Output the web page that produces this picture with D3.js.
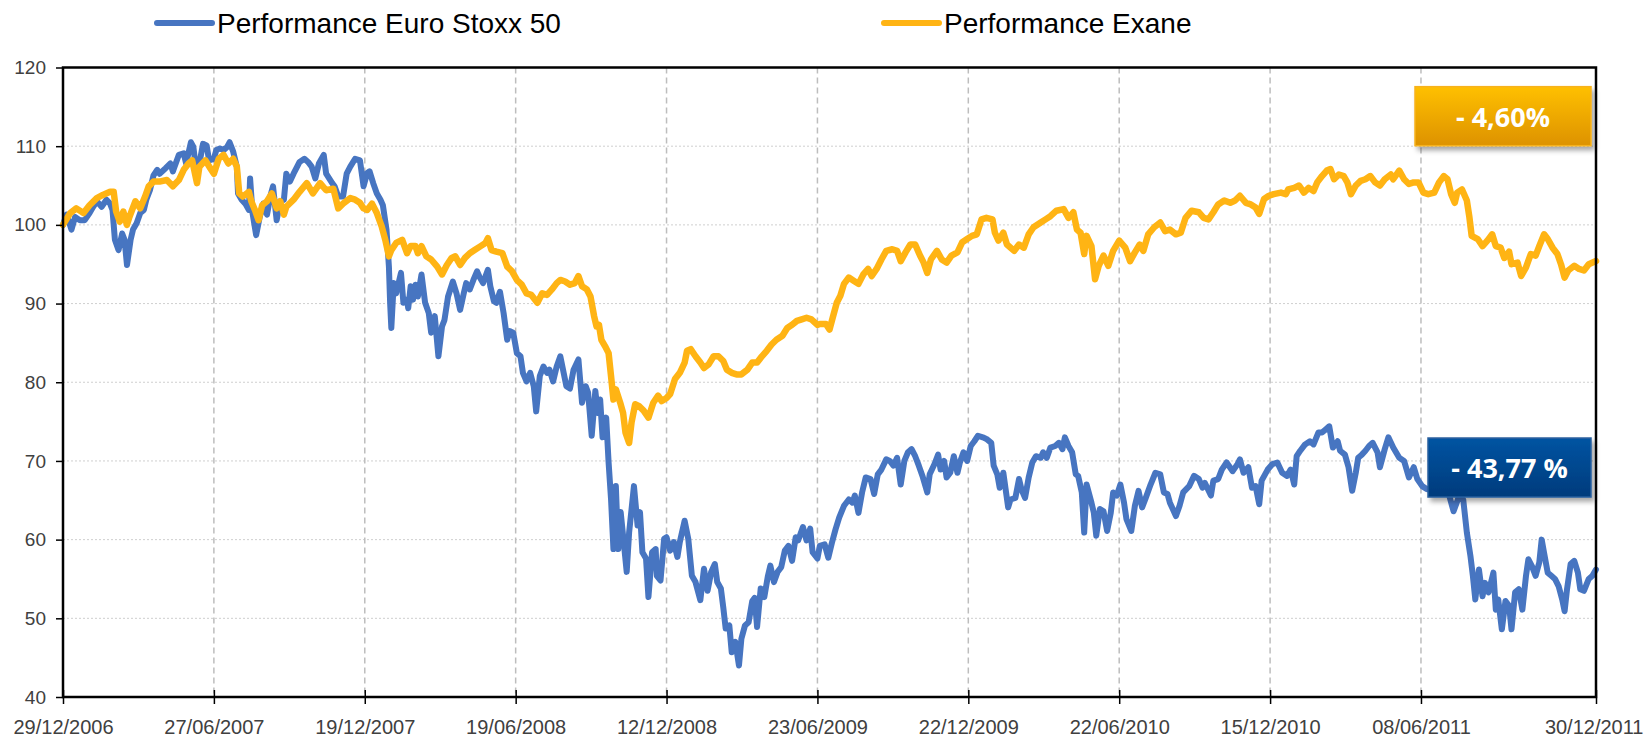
<!DOCTYPE html>
<html>
<head>
<meta charset="utf-8">
<script src="https://cdn.jsdelivr.net/npm/d3@7"></script>
<style>
  html, body { margin: 0; padding: 0; background: #ffffff; }
  svg { display: block; }
</style>
</head>
<body>
<div id="chart"></div>
<script>
// Trading session number counted from 29/12/2006, and index level (base 100)
const stoxxSession = [0, 3, 7, 10, 14, 18, 22, 25, 28, 32, 36, 39, 41, 43, 46, 49, 51, 53, 56, 58, 61, 64, 67, 69, 72, 75, 78, 80, 85, 89, 91, 96, 100, 102, 106, 108, 111, 113, 116, 119, 121, 125, 127, 130, 133, 136, 138, 141, 144, 145, 148, 151, 154, 155, 157, 160, 163, 166, 169, 172, 174, 177, 180, 183, 185, 188, 191, 194, 196, 200, 203, 206, 209, 212, 216, 218, 223, 225, 228, 232, 235, 238, 242,
  246, 249, 252, 254, 257, 260, 263, 265, 268, 270, 271, 272, 274, 276, 280, 282, 285, 286, 288, 290, 292, 294, 297, 300, 303, 305, 308, 311, 314, 316, 319, 323, 326, 329, 332, 334, 337, 340, 343, 345, 348, 352, 354, 357, 359, 362, 365, 368, 370, 373, 376, 379, 381, 384, 387, 390, 392, 395, 398, 401, 403, 406, 409,
  412, 417, 420, 423, 427, 430, 433, 435, 438, 441, 443, 445, 447, 450, 452, 454, 456, 458, 460, 462, 464, 467, 469, 473, 476, 478, 480, 483, 485, 488, 491, 492, 495, 498, 500, 503, 506, 509, 511, 515, 518, 521, 524, 528, 531, 534, 537, 540, 542, 545, 547, 549, 552, 554, 557, 560, 562, 565, 568, 571, 573, 575, 578, 581, 584, 586, 589, 592, 595, 598, 601, 604, 607, 609, 613, 616, 619, 621, 625, 627,
  631, 634, 637, 640, 643, 647, 651, 654, 656, 659, 662, 665, 669, 672, 675, 678, 682, 685, 688, 691, 694, 697, 700, 703, 706, 709, 712, 716, 718, 722, 725, 727, 730, 732, 735, 738, 741, 743, 746, 749, 752, 755, 758, 762, 765, 769, 771, 774, 776, 779, 783, 785, 789, 792, 794, 797, 800, 803, 806, 810, 812, 815, 818, 822, 825, 828, 830, 833, 836, 839, 841, 844, 846, 848, 852, 854, 856, 859, 862, 865, 868, 870, 873, 876, 879, 881, 885, 888, 891, 894, 897, 901, 905, 909, 912, 915, 917, 922, 925,
  928, 933, 937, 941, 944, 946, 951, 953, 957, 960, 964, 969, 973, 975, 978, 982, 985, 988, 991, 993, 998, 1002, 1006, 1010, 1014, 1017, 1020, 1022, 1025, 1029, 1033, 1036, 1040, 1043, 1046, 1049, 1052, 1056, 1058, 1062, 1065, 1068, 1071, 1073, 1076, 1079, 1082, 1085, 1089, 1091, 1095, 1098, 1102, 1107, 1111, 1115, 1119, 1122, 1126, 1130, 1136, 1141, 1147, 1152, 1156, 1160, 1163, 1166, 1168, 1170, 1173, 1176, 1178, 1181, 1185, 1187, 1189, 1192, 1195, 1198, 1200, 1203, 1206, 1209, 1212, 1214, 1217, 1220, 1223, 1225, 1227, 1230, 1233, 1236, 1239, 1242, 1244, 1246, 1249, 1252, 1255, 1257, 1260, 1264, 1267, 1270];
const stoxxValue = [100, 101.3, 99.4, 101, 100.6, 100.6, 101.5, 102.3, 103, 102.3, 103.2, 102.7, 101.9, 98.1, 96.8, 98.9, 98.1, 94.9, 98.1, 99.4, 100.2, 101.5, 101.9, 103.2, 104.4, 106.3, 107, 106.5, 107.2, 107.8, 106.8, 108.9, 109.1, 107.8, 110.5, 109.9, 106.1, 107.8, 110.3, 110.1, 108.2, 108.4, 109.5, 109.7, 109.5, 109.9, 110.5, 109.3, 107.4, 104, 103.2, 102.7, 101.9, 105.9, 101.5, 98.7, 101, 102.7, 101.3, 103.8, 104.9, 100.6, 103, 103.2, 106.5, 105.5, 106.5, 107.4, 108, 108.4, 108, 107.4, 105.9, 107.8, 108.9, 106.5, 105.3, 104.9, 103.6, 103.6, 106.5, 107.4, 108.4,
  108.2, 104.9, 106.6, 106.8, 105.3, 104, 103.2, 102.5, 99.4, 94.7, 90.1, 86.9, 92.6, 91.3, 93.9, 90.1, 90.5, 89.4, 92.2, 90.5, 92.4, 90.9, 93.7, 90.1, 88.8, 86.3, 88.4, 83.3, 87.1, 87.9, 90.9, 92.8, 91.3, 89.2, 91.3, 92.6, 91.8, 93, 94.1, 93.4, 92.6, 94.3, 92.2, 90.3, 90.1, 91.5, 88.8, 85.4, 86.5, 86.3, 83.7, 83.3, 81.2, 80.1, 81.2, 79.5, 76.3, 80.8, 82, 81.2, 81.6, 80.1, 82,
  83.3, 79.5, 79.2, 81.6, 82.9, 77.4, 79.5, 78.7, 73.2, 78.9, 76.1, 77.8, 73, 75.5, 69.8, 65.2, 58.8, 66.8, 58.8, 63.5, 60.5, 55.9, 60.9, 66.8, 61.8, 63.5, 58.4, 57.6, 52.7, 58.4, 58.8, 55.4, 54.8, 60.1, 60.3, 58.6, 59.7, 57.8, 59.7, 62.4, 60.1, 55.4, 54.6, 52.3, 56.3, 53.5, 55.9, 56.9, 54.6, 53.8, 51.4, 48.7, 49.1, 45.7, 47, 44, 47.4, 49.1, 49.5, 52.2, 52.6, 48.9, 53.8, 52.7, 55.4, 56.7, 54.6, 55.9, 56.5, 58.6, 59.2, 57.3, 60.3, 59.9, 61.6, 59.9, 61.4, 58.4, 57.6, 59.2,
  59.4, 57.7, 59.6, 61.3, 62.8, 64.3, 65.1, 64.7, 65.6, 63.4, 66, 67.9, 67.7, 65.8, 68.3, 68.9, 70.2, 70, 69.4, 70.4, 67, 70, 71.1, 71.5, 70.6, 69.4, 68.1, 66, 68.3, 69.6, 70.8, 68.9, 70, 67.9, 68.5, 70.6, 68.5, 69.8, 71.1, 70, 71.9, 72.5, 73.2, 73, 72.8, 72.3, 69.4, 68.3, 66.6, 68.5, 64.1, 65.1, 65.3, 67.7, 66.4, 65.3, 67.9, 69.8, 70.6, 70.4, 71.1, 70.4, 71.7, 71.9, 72.3, 71.5, 73, 71.9, 71.1, 68.3, 68.1, 66, 60.9, 67, 64.7, 63.4, 60.5, 63.9, 63.6, 61.1, 63.4, 66, 65.6, 67, 64.7, 62.6, 61.1, 64.3, 66.2, 64.1, 65.3, 67, 68.5, 68.3, 66, 65.8, 64.7, 63, 64.3,
  66, 66.8, 68.1, 67.7, 66.6, 67.2, 65.6, 67.5, 67.7, 68.9, 69.8, 68.7, 69.6, 70.2, 68.5, 69.2, 66.6, 66.8, 64.5, 67.5, 68.9, 69.6, 69.8, 68.5, 68.1, 68.9, 67, 70.6, 71.3, 72.1, 72.5, 72.1, 73.6, 73.6, 74, 74.4, 71.7, 72.5, 71.3, 70.8, 69.2, 66.2, 68.5, 70.4, 70.8, 71.3, 71.9, 72.3, 71.1, 69.2, 71.5, 73, 71.7, 70.4, 70, 67.9, 69.2, 67.7, 66.8, 66.4, 66.4, 66.2, 66.4, 63.6, 65.3, 65.1, 60.9, 57.9, 55.4, 52.4, 56.2, 52.8, 54.5, 53.3, 55.8, 51.1, 52.4, 48.6, 52.2, 51.6, 48.6, 53.3, 53.7, 51.1, 55.4, 57.5, 56.6, 55.4, 57.1, 60, 58.3, 55.8, 55.4, 55, 54.1, 52.4, 50.9, 53.7, 56.9, 57.3, 55.8, 53.7, 53.5, 55, 55.4, 56.2];

const exaneSession = [0, 6, 11, 17, 22, 28, 33, 39, 42, 44, 47, 50, 53, 55, 60, 64, 68, 71, 75, 80, 86, 91, 96, 100, 104, 107, 111, 113, 118, 122, 125, 129, 133, 137, 141, 144, 146, 149, 154, 156, 159, 162, 165, 169, 173, 177, 180, 183, 185, 191, 196, 202, 207, 213, 218, 224, 228, 232, 238, 242,
  246, 249, 252, 256, 260, 264, 267, 270, 272, 276, 281, 285, 288, 292, 294, 297, 301, 305, 310, 314, 318, 322, 325, 329, 333, 337, 341, 346, 350, 352, 355, 359, 364, 368, 372, 376, 380, 384, 388, 393, 397, 401, 405, 409,
  412, 416, 420, 424, 427, 430, 434, 437, 440, 442, 444, 446, 449, 452, 454, 456, 458, 462, 464, 466, 469, 471, 474, 477, 481, 485, 489, 493, 496, 500, 503, 507, 511, 515, 517, 520, 524, 528, 531, 535, 539, 543, 547, 550, 554, 558, 562, 567, 571, 575, 579, 583, 587, 591, 596, 600, 604, 608, 612, 616, 620, 625,
  627, 632, 635, 638, 641, 644, 647, 651, 655, 659, 663, 667, 670, 674, 678, 682, 687, 691, 694, 698, 702, 706, 710, 713, 716, 719, 724, 728, 732, 736, 741, 745, 749, 753, 757, 761, 765, 770, 772, 775, 779, 782, 788, 792, 796, 800, 804, 810, 814, 818, 823, 829, 833, 837, 840, 843, 846, 848, 852, 855, 858, 862, 866, 870, 875, 880, 884, 888, 892, 895, 899, 904, 909, 913, 917, 922,
  926, 930, 935, 941, 945, 949, 953, 957, 962, 967, 971, 975, 980, 984, 988, 991, 995, 999, 1003, 1009, 1013, 1015, 1020, 1024, 1028, 1032, 1036, 1039, 1043, 1047, 1050, 1053, 1057, 1061, 1064, 1067, 1071, 1075, 1079, 1083, 1087, 1091, 1095, 1100, 1102, 1107, 1111, 1115, 1119, 1123, 1127, 1131, 1136, 1140, 1144, 1147, 1150, 1153, 1155, 1159, 1163, 1165, 1167, 1172, 1176, 1180, 1184, 1187, 1191, 1194, 1198, 1200, 1205, 1208, 1212, 1216, 1220, 1223, 1227, 1230, 1234, 1238, 1241, 1244, 1247, 1252, 1256, 1260, 1264, 1270];
const exaneValue = [100, 101.5, 102.1, 101.5, 102.5, 103.4, 103.8, 104.2, 104.2, 101.7, 100.4, 101.7, 100, 101, 103, 102.1, 103.6, 104.9, 105.5, 105.5, 105.7, 104.9, 105.7, 107, 107.8, 108.2, 105.3, 107.4, 108.2, 107.2, 106.5, 108.4, 108.9, 107.8, 108.4, 107.4, 104, 103.6, 104.2, 103, 101.9, 100.6, 102.5, 103, 104, 102.1, 103, 101.3, 102.3, 103.2, 104.2, 105.3, 104, 105.3, 104.4, 104.6, 102.1, 102.7, 103.4, 103.2,
  102.8, 102.1, 101.9, 102.7, 101.5, 99.8, 98.1, 96, 96.8, 97.7, 98.1, 96.4, 97.3, 97.3, 96.4, 97.3, 96, 95.6, 94.7, 93.7, 94.9, 95.8, 96, 94.9, 95.8, 96.4, 96.8, 97.3, 97.7, 98.3, 96.8, 96.6, 96.4, 94.7, 94.1, 93, 92.4, 91.3, 91.1, 90.1, 91.3, 91.1, 91.8, 92.6,
  93, 92.8, 92.4, 92.6, 93.5, 92.2, 91.8, 90.9, 88.4, 87.1, 87.3, 85.4, 84.6, 83.7, 80.8, 77.8, 79.1, 77.2, 76.1, 73.6, 72.3, 74.9, 77.2, 77, 76.4, 75.5, 77.4, 78.3, 77.6, 78, 78.5, 80.4, 81.2, 82.5, 84, 84.2, 83.3, 82.5, 81.8, 82.3, 83.3, 83.3, 82.7, 81.6, 81.2, 81, 81, 81.6, 82.5, 82.5, 83.3, 84, 84.8, 85.4, 85.9, 86.9, 87.3, 87.8, 88, 88.2, 88, 87.3,
  87.4, 87.4, 86.7, 88.4, 90.1, 91, 92.5, 93.3, 92.9, 92.5, 93.7, 94.4, 93.5, 94.4, 95.6, 96.7, 96.9, 96.7, 95.4, 96.5, 97.5, 97.5, 96.1, 95.2, 93.9, 95.6, 96.7, 95.6, 95.2, 96.1, 96.5, 97.8, 98.2, 98.6, 98.8, 100.7, 100.9, 100.7, 99, 98, 99, 97.5, 96.7, 97.5, 97.1, 98.8, 99.7, 100.3, 100.7, 101.1, 101.8, 102, 100.9, 101.6, 99.4, 99, 96.3, 98.6, 97.3, 93.1, 94.8, 96.1, 94.8, 96.7, 98, 97.1, 95.4, 96.5, 97.5, 96.7, 98.8, 99.7, 100.3, 99.2, 99.4, 98.8,
  99, 100.9, 101.8, 101.6, 100.9, 100.7, 101.6, 102.6, 103.1, 102.8, 103.1, 103.7, 102.8, 102.6, 102.2, 101.4, 103.3, 103.7, 103.9, 104.1, 103.9, 104.5, 104.7, 105, 104.1, 104.7, 104.3, 105.4, 106.2, 106.9, 107.1, 105.8, 106.4, 106.2, 105.4, 103.9, 105, 105.6, 105.8, 106.2, 105.4, 105, 105.8, 106.4, 105.8, 106.9, 105.8, 105.2, 105.4, 105.4, 104.1, 103.9, 104.1, 105.4, 106.2, 105.8, 103.9, 102.8, 104.1, 104.5, 103.1, 101.1, 98.6, 98.2, 97.3, 98, 98.8, 97.3, 97.1, 95.8, 96.6, 95, 95.2, 93.5, 94.6, 96.3, 96.1, 97.3, 98.8, 98.2, 97.1, 96.3, 95, 93.3, 94.2, 94.8, 94.4, 94.2, 95, 95.4];

// Category axis: one label every 125 sessions, plus the last session
const tickSessions = [0, 125, 250, 375, 500, 625, 750, 875, 1000, 1125, 1270];
const tickLabels = ['29/12/2006', '27/06/2007', '19/12/2007', '19/06/2008', '12/12/2008', '23/06/2009',
  '22/12/2009', '22/06/2010', '15/12/2010', '08/06/2011', '30/12/2011'];
const yTicks = [40, 50, 60, 70, 80, 90, 100, 110, 120];

const seriesNames = ['Performance Euro Stoxx 50', 'Performance Exane'];
const perfLabels = ['- 43,77 %', '- 4,60%'];

const colors = {
  stoxx: '#4775c1',
  exane: '#ffb414',
  axis: '#000000',
  text: '#404040'
};

const width = 1644;
const height = 738;
const plot = { left: 63, right: 1596, top: 67.5, bottom: 697 };

const svg = d3.select('#chart').append('svg')
  .attr('width', width)
  .attr('height', height);

const defs = svg.append('defs');

const shadow = defs.append('filter')
  .attr('id', 'shadow')
  .attr('x', '-10%').attr('y', '-20%')
  .attr('width', '130%').attr('height', '160%');
shadow.append('feDropShadow')
  .attr('dx', 3).attr('dy', 4)
  .attr('stdDeviation', 2.5)
  .attr('flood-color', '#000')
  .attr('flood-opacity', 0.35);

function addGradient(id, top, bottom) {
  const gr = defs.append('linearGradient')
    .attr('id', id)
    .attr('x1', 0).attr('y1', 0).attr('x2', 0).attr('y2', 1);
  gr.append('stop').attr('offset', '0%').attr('stop-color', top);
  gr.append('stop').attr('offset', '100%').attr('stop-color', bottom);
}
addGradient('gradOrange', '#ffc000', '#dd9200');
addGradient('gradBlue', '#0254a2', '#003b7c');

const x = d3.scaleLinear()
  .domain([0, d3.max(tickSessions)])
  .range([plot.left, plot.right]);

const y = d3.scaleLinear()
  .domain([40, 120])
  .range([plot.bottom, plot.top]);

// Gridlines
svg.append('g')
  .selectAll('line')
  .data(yTicks.filter(v => v > 40 && v < 120))
  .join('line')
  .attr('x1', plot.left).attr('x2', plot.right)
  .attr('y1', d => y(d)).attr('y2', d => y(d))
  .attr('stroke', '#cfcfcf')
  .attr('stroke-width', 1)
  .attr('stroke-dasharray', '2,2');

svg.append('g')
  .selectAll('line')
  .data(tickSessions.slice(1, -1))
  .join('line')
  .attr('x1', d => x(d)).attr('x2', d => x(d))
  .attr('y1', plot.top).attr('y2', plot.bottom)
  .attr('stroke', '#bdbdbd')
  .attr('stroke-width', 1.5)
  .attr('stroke-dasharray', '6,4');

// Series
const line = d3.line()
  .x(d => x(d[0]))
  .y(d => y(d[1]));

svg.append('path')
  .datum(d3.zip(stoxxSession, stoxxValue))
  .attr('fill', 'none')
  .attr('stroke', colors.stoxx)
  .attr('stroke-width', 6)
  .attr('stroke-linejoin', 'round')
  .attr('stroke-linecap', 'round')
  .attr('d', line);

svg.append('path')
  .datum(d3.zip(exaneSession, exaneValue))
  .attr('fill', 'none')
  .attr('stroke', colors.exane)
  .attr('stroke-width', 6.5)
  .attr('stroke-linejoin', 'round')
  .attr('stroke-linecap', 'round')
  .attr('d', line);

// Frame
svg.append('rect')
  .attr('x', plot.left).attr('y', plot.top)
  .attr('width', plot.right - plot.left)
  .attr('height', plot.bottom - plot.top)
  .attr('fill', 'none')
  .attr('stroke', colors.axis)
  .attr('stroke-width', 2.5);

// Y axis
const yAxis = svg.append('g')
  .attr('transform', `translate(${plot.left},0)`)
  .call(d3.axisLeft(y).tickValues(yTicks).tickSize(7).tickPadding(10).tickFormat(d3.format('d')));
yAxis.select('.domain').remove();
yAxis.selectAll('line').attr('stroke', colors.axis).attr('stroke-width', 1.5);
yAxis.selectAll('text')
  .attr('font-family', 'Liberation Sans, Arial, sans-serif')
  .attr('font-size', 19)
  .attr('fill', colors.text);

// X axis: ticks cross the axis line
const xAxis = svg.append('g')
  .attr('transform', `translate(0,${plot.bottom})`)
  .call(d3.axisBottom(x).tickValues(tickSessions).tickSize(7).tickPadding(16)
    .tickFormat((d, i) => tickLabels[i]));
xAxis.select('.domain').remove();
xAxis.selectAll('line')
  .attr('y1', -7)
  .attr('stroke', colors.axis)
  .attr('stroke-width', 1.5);
xAxis.selectAll('text')
  .attr('font-family', 'Liberation Sans, Arial, sans-serif')
  .attr('font-size', 20)
  .attr('fill', colors.text);
// last label sits flush with the right edge of the picture
xAxis.selectAll('.tick').filter((d, i) => i === tickSessions.length - 1)
  .select('text')
  .attr('text-anchor', 'end')
  .attr('x', width - x(d3.max(tickSessions)) - 1);

// Legend
const legend = [
  { name: seriesNames[0], color: colors.stoxx, x0: 157 },
  { name: seriesNames[1], color: colors.exane, x0: 884 }
];
legend.forEach(item => {
  svg.append('line')
    .attr('x1', item.x0).attr('x2', item.x0 + 55)
    .attr('y1', 23).attr('y2', 23)
    .attr('stroke', item.color)
    .attr('stroke-width', 6)
    .attr('stroke-linecap', 'round');
  svg.append('text')
    .attr('x', item.x0 + 60)
    .attr('y', 33)
    .attr('font-family', 'Liberation Sans, Arial, sans-serif')
    .attr('font-size', 28)
    .attr('fill', '#000')
    .text(item.name);
});

// Performance boxes
const boxes = [
  { label: perfLabels[1], fill: 'url(#gradOrange)', stroke: '#f7b21a', x0: 1415, level: 113.75, w: 176 },
  { label: perfLabels[0], fill: 'url(#gradBlue)', stroke: '#2a5f9e', x0: 1428, level: 69.1, w: 163 }
];
boxes.forEach(b => {
  const cy = y(b.level);
  svg.append('rect')
    .attr('x', b.x0).attr('y', cy - 30)
    .attr('width', b.w).attr('height', 59)
    .attr('fill', b.fill)
    .attr('stroke', b.stroke)
    .attr('stroke-width', 1.5)
    .attr('filter', 'url(#shadow)');
  svg.append('text')
    .attr('x', b.x0 + b.w / 2)
    .attr('y', cy + 10)
    .attr('text-anchor', 'middle')
    .attr('font-family', 'Open Sans, Lato, sans-serif')
    .attr('font-weight', 700)
    .attr('font-size', 27)
    .attr('fill', '#ffffff')
    .text(b.label);
});
</script>
</body>
</html>
